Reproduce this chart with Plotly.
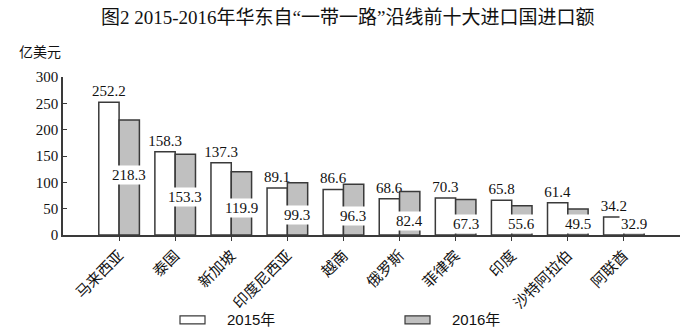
import plotly.graph_objects as go

# ---- data ----
categories = ["马来西亚", "泰国", "新加坡", "印度尼西亚", "越南", "俄罗斯", "菲律宾", "印度", "沙特阿拉伯", "阿联酋"]
values_2015 = [252.2, 158.3, 137.3, 89.1, 86.6, 68.6, 70.3, 65.8, 61.4, 34.2]
values_2016 = [218.3, 153.3, 119.9, 99.3, 96.3, 82.4, 67.3, 55.6, 49.5, 32.9]
y_ticks = [0, 50, 100, 150, 200, 250, 300]
series_names = ["2015年", "2016年"]
title_text = "图2 2015-2016年华东自“一带一路”沿线前十大进口国进口额"
unit_text = "亿美元"

# ---- styling ----
W, H = 693, 332
L, R, T, B = 63, 13, 76.6, 97
SERIF = "Liberation Serif, Noto Sans CJK SC"
SANS = "Liberation Sans, Noto Sans CJK SC"
EDGE = "#3a3a3a"
GREY = "#c0c0c0"
plot_w = W - L - R
plot_h = H - T - B


def px_x(px):
    return (px - L) / plot_w


def px_y(py):
    return (H - B - py) / plot_h


fig = go.Figure()
fig.add_trace(go.Bar(
    name=series_names[0], x=categories, y=values_2015,
    marker=dict(color="white", line=dict(color=EDGE, width=1.5)),
    text=[f"{v:.1f}" for v in values_2015], textposition="outside",
    textfont=dict(family=SERIF, size=15, color="#111"),
    constraintext="none", cliponaxis=False, showlegend=False,
))
fig.add_trace(go.Bar(
    name=series_names[1], x=categories, y=values_2016,
    marker=dict(color=GREY, line=dict(color=EDGE, width=1.5)),
    showlegend=False,
))

annotations = []
for c, v in zip(categories, values_2016):
    annotations.append(dict(
        x=c, y=max(20, 0.64 * v - 26), xref="x", yref="y", xshift=10,
        text=f"{v:.1f}", showarrow=False, bgcolor="white", borderpad=1,
        font=dict(family=SERIF, size=15, color="#111"),
    ))

annotations.append(dict(
    x=px_x(347), y=px_y(17), xref="paper", yref="paper",
    text=title_text, showarrow=False, xanchor="center", yanchor="middle",
    font=dict(family=SERIF, size=19, color="#111"),
))
annotations.append(dict(
    x=px_x(17), y=px_y(52), xref="paper", yref="paper",
    text=unit_text, showarrow=False, xanchor="left", yanchor="middle",
    font=dict(family=SERIF, size=14, color="#111"),
))

# manual legend
shapes = []
legend_items = [(180, 225, "white"), (405, 450, GREY)]
for (sx, tx, col), name in zip(legend_items, series_names):
    shapes.append(dict(
        type="rect", xref="paper", yref="paper",
        x0=px_x(sx), x1=px_x(sx + 25), y0=px_y(324), y1=px_y(316),
        fillcolor=col, line=dict(color=EDGE, width=1.2),
    ))
    annotations.append(dict(
        x=px_x(tx), y=px_y(320), xref="paper", yref="paper",
        text=name, showarrow=False, xanchor="left", yanchor="middle",
        font=dict(family=SANS, size=15, color="#111"),
    ))

fig.update_layout(
    width=W, height=H,
    margin=dict(l=L, r=R, t=T, b=B, pad=0),
    paper_bgcolor="white", plot_bgcolor="white",
    barmode="group", bargap=0.276, bargroupgap=0,
    annotations=annotations, shapes=shapes,
    xaxis=dict(
        range=[-1, 10], showline=True, linecolor=EDGE, linewidth=1.5,
        ticks="outside", ticklen=4, tickcolor=EDGE, tickwidth=1.2,
        tickangle=-45, tickfont=dict(family=SERIF, size=15, color="#111"),
        showgrid=False, zeroline=False,
    ),
    yaxis=dict(
        range=[0, 300], tickvals=y_ticks, showline=True, linecolor=EDGE,
        linewidth=1.5, ticks="inside", ticklen=4, tickcolor=EDGE, tickwidth=1.2,
        tickfont=dict(family=SERIF, size=15, color="#111"),
        showgrid=False, zeroline=False,
    ),
)

fig.write_html("out.html")
